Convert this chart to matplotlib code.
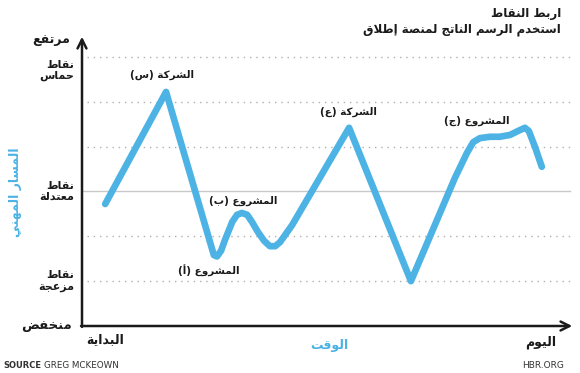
import matplotlib
matplotlib.use("Agg")
import matplotlib.pyplot as plt

# --- minimal arabic shaping (matplotlib has no bidi / joining support) ---
FORMS = {
    'ا': ('\uFE8D', '\uFE8E', None, None),
    'أ': ('\uFE83', '\uFE84', None, None),
    'إ': ('\uFE87', '\uFE88', None, None),
    'ب': ('\uFE8F', '\uFE90', '\uFE91', '\uFE92'),
    'ة': ('\uFE93', '\uFE94', None, None),
    'ت': ('\uFE95', '\uFE96', '\uFE97', '\uFE98'),
    'ج': ('\uFE9D', '\uFE9E', '\uFE9F', '\uFEA0'),
    'ح': ('\uFEA1', '\uFEA2', '\uFEA3', '\uFEA4'),
    'خ': ('\uFEA5', '\uFEA6', '\uFEA7', '\uFEA8'),
    'د': ('\uFEA9', '\uFEAA', None, None),
    'ر': ('\uFEAD', '\uFEAE', None, None),
    'ز': ('\uFEAF', '\uFEB0', None, None),
    'س': ('\uFEB1', '\uFEB2', '\uFEB3', '\uFEB4'),
    'ش': ('\uFEB5', '\uFEB6', '\uFEB7', '\uFEB8'),
    'ص': ('\uFEB9', '\uFEBA', '\uFEBB', '\uFEBC'),
    'ض': ('\uFEBD', '\uFEBE', '\uFEBF', '\uFEC0'),
    'ط': ('\uFEC1', '\uFEC2', '\uFEC3', '\uFEC4'),
    'ع': ('\uFEC9', '\uFECA', '\uFECB', '\uFECC'),
    'ف': ('\uFED1', '\uFED2', '\uFED3', '\uFED4'),
    'ق': ('\uFED5', '\uFED6', '\uFED7', '\uFED8'),
    'ك': ('\uFED9', '\uFEDA', '\uFEDB', '\uFEDC'),
    'ل': ('\uFEDD', '\uFEDE', '\uFEDF', '\uFEE0'),
    'م': ('\uFEE1', '\uFEE2', '\uFEE3', '\uFEE4'),
    'ن': ('\uFEE5', '\uFEE6', '\uFEE7', '\uFEE8'),
    'ه': ('\uFEE9', '\uFEEA', '\uFEEB', '\uFEEC'),
    'و': ('\uFEED', '\uFEEE', None, None),
    'ي': ('\uFEF1', '\uFEF2', '\uFEF3', '\uFEF4'),
}
LAMALEF = {'ا': ('\uFEFB', '\uFEFC'), 'أ': ('\uFEF7', '\uFEF8'), 'إ': ('\uFEF9', '\uFEFA')}
MIRROR = {'(': ')', ')': '('}


def dual(c):
    return c in FORMS and FORMS[c][2] is not None


def shape_line(s):
    chars = list(s)
    out = []
    i = 0
    while i < len(chars):
        c = chars[i]
        prev = chars[i - 1] if i > 0 else ''
        join_prev = dual(prev) and c in FORMS
        if c == 'ل' and i + 1 < len(chars) and chars[i + 1] in LAMALEF:
            out.append(LAMALEF[chars[i + 1]][1 if join_prev else 0])
            i += 2
            continue
        if c not in FORMS:
            out.append(MIRROR.get(c, c))
            i += 1
            continue
        nxt = chars[i + 1] if i + 1 < len(chars) else ''
        join_next = dual(c) and nxt in FORMS
        iso, fin, ini, med = FORMS[c]
        if join_prev and join_next:
            out.append(med)
        elif join_prev:
            out.append(fin)
        elif join_next:
            out.append(ini)
        else:
            out.append(iso)
        i += 1
    return ''.join(reversed(out))


def ar(s):
    return '\n'.join(shape_line(l) for l in s.split('\n'))


# --- data (time 0-100, level 0-6) ---
time = [4.8, 17.4, 27.3, 27.95, 28.8, 29.6, 31.1, 32.1, 33.1, 34.2, 35.2, 36.4, 37.7, 38.9,
        40.0, 41.0, 43.5, 55.3, 68.1, 77.2, 79.7, 81.0, 82.4, 84.5, 86.5, 88.6, 90.3, 91.7, 92.5,
        93.8, 95.2]
level = [2.72, 5.22, 1.58, 1.55, 1.68, 1.92, 2.32, 2.48, 2.52, 2.48, 2.32, 2.10, 1.90, 1.78,
         1.78, 1.87, 2.25, 4.42, 1.0, 3.30, 3.86, 4.10, 4.19, 4.22, 4.22, 4.26, 4.35, 4.42, 4.35,
         3.99, 3.55]

labels = ['الشركة (س)', 'المشروع (أ)', 'المشروع (ب)', 'الشركة (ع)', 'المشروع (ج)']
label_x = [16.6, 26.3, 33.3, 55.1, 81.8]
label_y = [5.6, 1.22, 2.78, 4.78, 4.58]

ytick_pos = [5.7, 3.0, 1.0]
ytick_labels = ['نقاط\nحماس', 'نقاط\nمعتدلة', 'نقاط\nمزعجة']

blue = '#4db3e4'
dark = '#1a1a1a'
plt.rcParams['font.family'] = ['DejaVu Sans']

fig = plt.figure(figsize=(5.8, 3.73), dpi=100)
ax = fig.add_axes([82 / 580, 47 / 373, 483 / 580, 287 / 373])
ax.set_xlim(0, 100)
ax.set_ylim(0, 6.4)
ax.axis('off')

# grid
for g in [1, 2, 4, 5, 6]:
    ax.plot([1, 101.5], [g, g], ls=(0, (1, 3.5)), color='#b0b0b0', lw=1, clip_on=False)
ax.plot([0, 101], [3, 3], color='#c8c8c8', lw=1, clip_on=False)

# axes arrows
ax.annotate('', xy=(0, 6.45), xytext=(0, -0.02), annotation_clip=False,
            arrowprops=dict(arrowstyle='->', lw=1.8, color=dark, mutation_scale=16, shrinkA=0, shrinkB=0))
ax.annotate('', xy=(101.5, 0), xytext=(-0.2, 0), annotation_clip=False,
            arrowprops=dict(arrowstyle='->', lw=1.8, color=dark, mutation_scale=16, shrinkA=0, shrinkB=0))

# career path
ax.plot(time, level, color=blue, lw=4.8, solid_joinstyle='round', solid_capstyle='round', zorder=3)

for t, x, y in zip(labels, label_x, label_y):
    ax.text(x, y, ar(t), ha='center', va='center', fontsize=7.5, fontweight='bold', color=dark)

for p, t in zip(ytick_pos, ytick_labels):
    ax.text(-1.7, p, ar(t), ha='right', va='center', fontsize=8, fontweight='bold', color=dark,
            linespacing=1.15, clip_on=False)

fig.text(70 / 580, 1 - 40 / 373, ar('مرتفع'), ha='right', va='center', fontsize=9, fontweight='bold', color=dark)
fig.text(72 / 580, 1 - 325 / 373, ar('منخفض'), ha='right', va='center', fontsize=9.5, fontweight='bold', color=dark)
fig.text(105 / 580, 1 - 340 / 373, ar('البداية'), ha='center', va='center', fontsize=9, fontweight='bold', color=dark)
fig.text(541 / 580, 1 - 342 / 373, ar('اليوم'), ha='center', va='center', fontsize=9, fontweight='bold', color=dark)
fig.text(329 / 580, 1 - 345 / 373, ar('الوقت'), ha='center', va='center', fontsize=9, fontweight='bold', color=blue)
fig.text(16 / 580, 1 - 192 / 373, ar('المسار المهني'), ha='center', va='center', rotation=90,
         fontsize=9, fontweight='bold', color=blue)

# title
fig.text(561 / 580, 1 - 14 / 373, ar('اربط النقاط'), ha='right', va='center', fontsize=8.5, fontweight='bold', color=dark)
fig.text(561 / 580, 1 - 29 / 373, ar('استخدم الرسم الناتج لمنصة إطلاق'), ha='right', va='center',
         fontsize=8.5, fontweight='bold', color=dark)

# footer
fig.text(3 / 580, 1 - 366 / 373, 'SOURCE', ha='left', va='center', fontsize=6, fontweight='bold', color='#333333')
fig.text(44 / 580, 1 - 366 / 373, 'GREG MCKEOWN', ha='left', va='center', fontsize=6.3, color='#333333')
fig.text(564 / 580, 1 - 366 / 373, 'HBR.ORG', ha='right', va='center', fontsize=6.5, color='#333333')

fig.savefig('out.png', dpi=100)
